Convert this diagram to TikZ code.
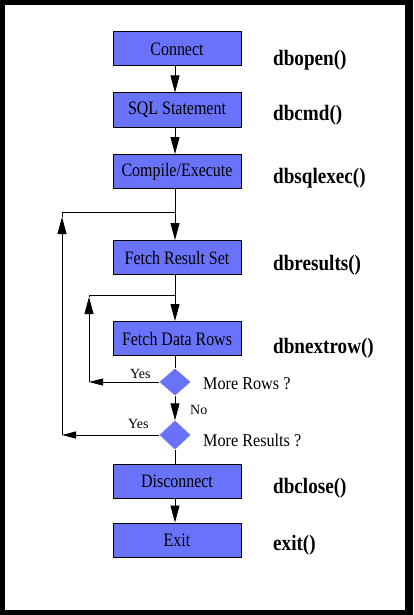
\documentclass[tikz,border=0pt]{standalone}
\usepackage{fontspec}
\setmainfont{Liberation Serif}
\usetikzlibrary{arrows.meta,shapes.geometric}
\definecolor{boxblue}{RGB}{105,115,250}
\newcommand{\cnd}[2][0.87]{\scalebox{#1}[1]{#2}}
\begin{document}
\begin{tikzpicture}[x=1pt,y=-1pt,
 stepbox/.style={draw=black,line width=1pt,fill=boxblue,minimum width=128pt,minimum height=34pt,inner sep=0pt,font=\fontsize{19}{21}\selectfont},
 decision/.style={diamond,fill=boxblue,minimum width=31pt,minimum height=27pt,inner sep=0pt},
 fn/.style={anchor=base west,inner sep=0pt,font=\fontsize{22}{24}\selectfont\bfseries},
 note/.style={anchor=base west,inner sep=0pt,font=\fontsize{18}{20}\selectfont},
 small/.style={anchor=base west,inner sep=0pt,font=\fontsize{14}{16}\selectfont},
 link/.style={line width=0.9pt},
 tipv/.style={-{Triangle[length=17pt,width=9pt]}},
 tiph/.style={-{Triangle[length=14pt,width=7pt]}},
]
\useasboundingbox (0,0) rectangle (413,615);
\fill[black] (0,0) rectangle (413,615);
\fill[white] (5,5) rectangle (405,610);

\node[stepbox] (connect) at (177,49) {\cnd[0.84]{Connect}};
\node[stepbox] (sql) at (177,110) {\cnd[0.84]{SQL Statement}};
\node[stepbox] (compile) at (177,171.5) {\cnd[0.84]{Compile/Execute}};
\node[stepbox] (frs) at (177,257.5) {\cnd[0.84]{Fetch Result Set}};
\node[stepbox] (fdr) at (177,338.5) {\cnd[0.84]{Fetch Data Rows}};
\node[decision] (rows) at (175,382) {};
\node[decision,minimum height=29pt] (results) at (175,435) {};
\node[stepbox] (disc) at (177,481) {\cnd[0.84]{Disconnect}};
\node[stepbox] (exit) at (177,540) {\cnd[0.84]{Exit}};

\coordinate (outer) at (62,212);
\coordinate (outertip) at (62,217);
\coordinate (inner) at (89,295);
\coordinate (innertip) at (89,297);

\draw[link,tipv] (connect.south -| rows) -- (sql.north -| rows);
\draw[link,tipv] (sql.south -| rows) -- (compile.north -| rows);
\draw[link,tipv] (compile.south -| rows) -- (frs.north -| rows);
\draw[link,tipv] (frs.south -| rows) -- (fdr.north -| rows);
\draw[link] (fdr.south -| rows) -- (rows.north);
\draw[link,tipv] (rows.south) -- (results.north);
\draw[link] (results.south) -- (disc.north -| rows);
\draw[link,tipv] (disc.south -| rows) -- (exit.north -| rows);

\draw[link,tiph] (rows.west) -- (rows.west -| inner);
\draw[link,tipv] (rows.west -| inner) -- (innertip);
\draw[link] (innertip) -- (inner) -- (inner -| rows);

\draw[link,tiph] (results.west) -- (results.west -| outer);
\draw[link,tipv] (results.west -| outer) -- (outertip);
\draw[link] (outertip) -- (outer) -- (outer -| rows);

\node[fn] (f1) at (273,66) {\cnd{dbopen()}};
\node[fn] (f2) at (273,121) {\cnd{dbcmd()}};
\node[fn] (f3) at (273,183) {\cnd{dbsqlexec()}};
\node[fn] (f4) at (273,270) {\cnd{dbresults()}};
\node[fn] (f5) at (273,353) {\cnd{dbnextrow()}};
\node[fn] (f6) at (273,493) {\cnd{dbclose()}};
\node[fn] (f7) at (273,550) {\cnd{exit()}};

\node[note] (q1) at (203,389) {\cnd[0.9]{More Rows ?}};
\node[note] (q2) at (203,446) {\cnd[0.9]{More Results ?}};
\node[small] (y1) at (130,378) {Yes};
\node[small] (y2) at (128,428) {Yes};
\node[small] (n1) at (190,414) {No};
\end{tikzpicture}
\end{document}
